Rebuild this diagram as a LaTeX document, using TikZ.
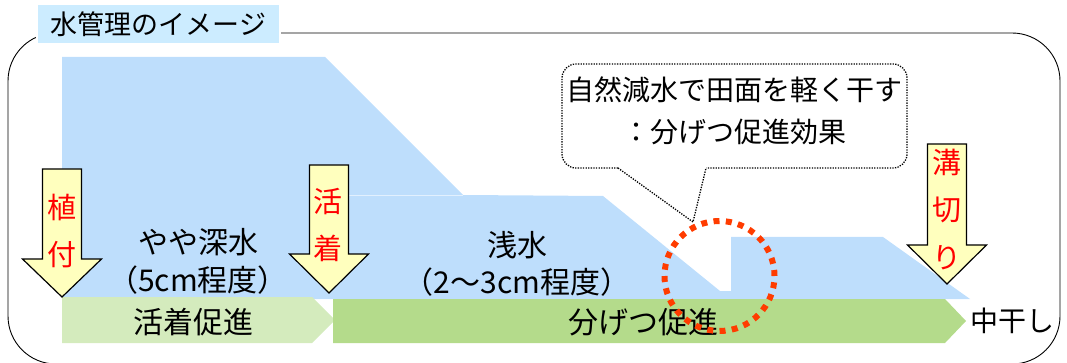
\documentclass[tikz,border=0pt]{standalone}
\usepackage{fontspec}
\setmainfont{Noto Sans CJK JP}
\definecolor{water}{RGB}{190,222,252}
\definecolor{titleblue}{RGB}{204,236,255}
\definecolor{paleleaf}{RGB}{212,235,189}
\definecolor{leaf}{RGB}{180,219,139}
\definecolor{arrowyellow}{RGB}{255,255,190}
\definecolor{ring}{RGB}{255,60,0}

\begin{document}
\begin{tikzpicture}[x=1pt,y=-1pt,
    label/.style={font=\fontsize{30}{36}\selectfont, align=center, inner sep=0pt},
    redtxt/.style={font=\fontsize{29}{30}\selectfont, text=red, inner sep=0pt},
    arrowbox/.style={draw=black, line width=1.2pt, fill=arrowyellow, line join=miter},
    callout/.style={draw=black, line width=1.3pt, dash pattern=on 1.3pt off 1.3pt},
    redring/.style={draw=ring, line width=6pt, dash pattern=on 6pt off 6.34pt}]
    \useasboundingbox (0,0) rectangle (1067,363);
    \clip (0,0) rectangle (1067,363);

    \draw[line width=0.9pt, rounded corners=48pt] (8,33) rectangle (1060,364);
    \node[fill=titleblue, draw=white, line width=2pt, minimum width=243pt, minimum height=40pt, inner sep=0pt] (title) at (158.5,24) {\fontsize{27}{27}\selectfont 水管理のイメージ};

    \fill[water] (62,57) -- (325,57) -- (463,195) -- (603,196) -- (720,291) -- (731,291) -- (731,237) -- (883,237) -- (970,299) -- (62,299) -- cycle;
    \draw[white!55!water, line width=0.8pt] (340,195) -- (463,195);

    \fill[paleleaf] (62,297) -- (312,297) -- (335,320) -- (312,343) -- (62,343) -- cycle;
    \fill[leaf] (333,299) -- (945,299) -- (966,321) -- (945,343) -- (333,343) -- cycle;

    \node[label] (deep) at (198,242) {やや深水};
    \node[label] (deepcm) at (198,280) {（5cm程度）};
    \node[label] (shallow) at (517,245) {浅水};
    \node[label] (shallowcm) at (517,282) {（2～3cm程度）};
    \node[label] (rooting) at (193,322) {活着促進};
    \node[label] (tiller) at (643,322) {分げつ促進};
    \node[label, font=\fontsize{28}{30}\selectfont] (midseason) at (1012,321) {中干し};

    \node[label, font=\fontsize{28}{42}\selectfont] (note) at (734,111) {自然減水で田面を軽く干す\\：分げつ促進効果};
    \draw[callout, rounded corners=14pt] (618,168) -- (562,168) -- (562,64) -- (907,64) -- (907,168) -- (706,168);
    \draw[callout] (618,168) -- (693,222) -- (706,168);

    \foreach \x/\top/\neck/\tip in {62/169/259/297, 329/165/254/293, 947/144/245/284}
        \draw[arrowbox] (\x-19.5,\top) -- (\x+19.5,\top) -- (\x+19.5,\neck) -- (\x+39.5,\neck) -- (\x,\tip) -- (\x-39.5,\neck) -- (\x-19.5,\neck) -- cycle;

    \node[redtxt] (plant1) at (62,207) {植};
    \node[redtxt] (plant2) at (62,255) {付};
    \node[redtxt] (root1) at (328,202) {活};
    \node[redtxt] (root2) at (328,248) {着};
    \node[redtxt] (ditch1) at (947,162) {溝};
    \node[redtxt] (ditch2) at (947,210) {切};
    \node[redtxt] (ditch3) at (947,258) {り};

    \draw[redring] (719.5,276) circle (55pt);
\end{tikzpicture}
\end{document}
